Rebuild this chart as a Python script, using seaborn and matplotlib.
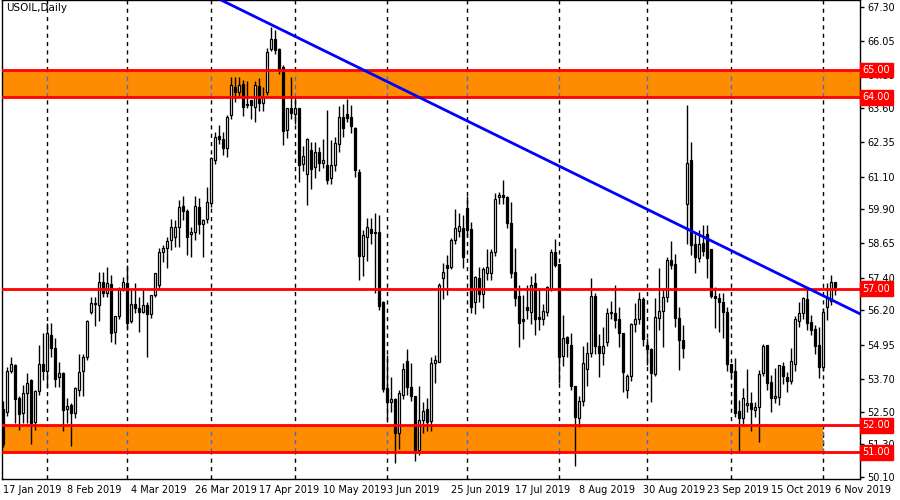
import matplotlib
matplotlib.use("Agg")
import matplotlib.pyplot as plt
import numpy as np
import pandas as pd
import seaborn as sns

# Daily USOIL candles, 17 Jan 2019 .. 6 Nov 2019
opens = [52.6, 52.48, 54.0, 54.2, 53.0, 52.46, 53.17, 53.65, 52.13, 53.26,
         54.23, 54.0, 55.3, 54.84, 53.75, 53.9, 52.6, 52.74, 52.46, 53.29,
         53.97, 54.48, 56.15, 56.45, 56.4, 57.23, 56.82, 57.15, 55.42, 56.0,
         56.97, 57.19, 55.82, 56.43, 56.28, 56.15, 56.4, 56.06, 56.76, 57.13,
         58.35, 58.5, 58.77, 58.89, 59.26, 60.02, 59.84, 58.99, 59.08, 59.97,
         59.38, 59.53, 60.14, 61.72, 62.58, 62.48, 62.15, 63.34, 64.36, 64.2,
         64.48, 63.75, 63.89, 63.65, 64.4, 63.8, 64.2, 65.75, 66.12, 65.76,
         65.1, 62.8, 63.59, 63.4, 63.59, 61.55, 61.18, 62.06, 61.45, 62.0,
         61.6, 61.52, 61.03, 61.52, 62.3, 63.28, 63.37, 63.28, 62.89, 61.27,
         58.19, 58.9, 59.17, 59.07, 59.07, 56.49, 53.35, 52.86, 52.95, 51.7,
         53.1, 54.34, 53.4, 53.05, 51.1, 52.19, 52.58, 52.17, 54.27, 54.33,
         57.38, 57.85, 57.78, 58.78, 59.12, 59.21, 59.94, 59.19, 56.49, 57.38,
         56.8, 57.56, 57.56, 58.35, 60.36, 60.41, 60.34, 59.39, 57.62, 56.73,
         55.88, 56.34, 56.15, 57.21, 55.95, 55.87, 56.15, 56.98, 58.32, 57.9,
         54.54, 55.21, 54.93, 53.43, 52.28, 52.89, 54.06, 54.63, 56.72, 54.89,
         54.63, 55.03, 56.1, 56.09, 55.87, 55.36, 53.29, 53.8, 55.7, 55.9,
         56.6, 54.93, 54.8, 53.89, 55.94, 56.19, 56.7, 58.04, 57.9, 55.91,
         55.11, 60.11, 61.7, 58.63, 58.12, 58.65, 58.99, 58.44, 56.72, 56.64,
         56.52, 56.15, 54.24, 53.99, 52.52, 52.25, 52.72, 52.8, 52.56, 52.65,
         53.9, 54.93, 53.59, 52.98, 53.04, 54.17, 53.78, 53.63, 54.23, 55.82,
         56.09, 56.6, 55.79, 55.51, 54.93, 54.12, 56.31, 56.56, 57.23]
highs = [52.9, 54.14, 54.5, 54.25, 53.05, 53.47, 53.92, 53.7, 53.3, 54.93,
         55.36, 55.75, 55.75, 55.18, 54.3, 53.95, 52.98, 52.8, 53.4, 54.59,
         54.6, 55.85, 56.7, 56.7, 57.6, 57.6, 57.8, 57.5, 56.0, 57.07,
         57.41, 57.86, 56.97, 57.19, 56.7, 56.97, 56.52, 56.77, 57.56, 58.5,
         58.6, 58.9, 59.53, 59.5, 60.24, 60.38, 59.9, 59.26, 60.38, 60.3,
         59.55, 60.72, 61.82, 62.73, 62.98, 62.73, 63.34, 64.75, 64.75, 64.75,
         64.62, 64.59, 63.9, 64.59, 64.69, 64.38, 65.8, 66.58, 66.45, 65.8,
         65.17, 63.62, 64.75, 64.0, 63.6, 62.2, 62.5, 62.37, 62.37, 62.18,
         62.49, 63.53, 62.43, 62.55, 63.67, 63.77, 63.92, 63.71, 62.9, 61.39,
         59.14, 59.57, 59.57, 59.75, 59.7, 56.55, 54.57, 53.75, 53.0, 53.29,
         54.29, 54.8, 54.27, 53.05, 53.44, 52.86, 52.99, 54.51, 54.57, 57.2,
         57.95, 58.23, 58.84, 59.9, 59.78, 59.69, 60.4, 59.45, 57.46, 57.8,
         57.8, 58.44, 58.44, 60.49, 60.55, 60.97, 60.37, 60.18, 58.47, 57.13,
         56.77, 57.13, 57.46, 57.58, 57.0, 56.45, 57.1, 58.43, 58.8, 57.9,
         56.03, 55.25, 55.39, 53.43, 53.06, 54.9, 55.03, 57.37, 56.82, 55.33,
         55.58, 56.3, 56.55, 57.13, 56.33, 55.36, 53.86, 55.75, 56.46, 56.87,
         56.7, 55.2, 54.84, 56.64, 57.74, 56.94, 58.16, 58.74, 58.28, 56.33,
         55.66, 63.71, 62.35, 58.99, 59.14, 59.32, 59.32, 58.45, 57.07, 56.83,
         56.85, 56.34, 54.25, 54.45, 52.92, 53.35, 54.06, 53.23, 52.86, 54.02,
         54.97, 54.95, 53.84, 54.08, 54.2, 54.33, 53.96, 54.81, 56.0, 56.52,
         56.7, 56.97, 56.03, 55.67, 55.58, 56.28, 57.19, 57.5, 57.24]
lows = [51.2, 52.35, 53.9, 52.07, 51.83, 52.07, 52.07, 51.3, 51.83, 53.1,
        53.65, 53.35, 54.5, 53.41, 53.41, 51.79, 52.07, 51.25, 52.25, 53.08,
        53.08, 54.4, 56.07, 55.64, 55.8, 56.68, 56.7, 55.06, 54.97, 55.9,
        56.9, 55.5, 55.73, 56.1, 55.42, 56.1, 54.51, 55.93, 56.7, 57.0,
        57.98, 57.75, 58.4, 58.53, 58.53, 59.5, 58.22, 58.14, 58.77, 59.0,
        58.16, 59.4, 60.0, 61.57, 62.3, 61.9, 61.8, 63.2, 63.83, 64.0,
        63.3, 63.6, 63.19, 63.1, 63.5, 63.5, 64.1, 65.7, 65.6, 64.84,
        62.25, 62.5, 63.2, 63.04, 60.9, 61.3, 60.05, 60.66, 61.03, 61.3,
        61.4, 60.84, 60.84, 61.3, 62.0, 62.55, 63.1, 62.7, 61.1, 57.33,
        57.45, 58.0, 58.63, 56.85, 56.2, 53.2, 52.1, 52.5, 50.61, 51.13,
        52.95, 53.1, 52.9, 50.7, 50.9, 51.7, 51.77, 51.77, 53.56, 54.3,
        56.61, 56.77, 57.7, 58.63, 58.9, 57.74, 58.9, 56.1, 56.07, 56.5,
        56.28, 57.3, 57.3, 58.2, 60.1, 60.1, 59.2, 57.4, 56.36, 54.85,
        55.14, 55.9, 55.7, 55.3, 55.5, 55.66, 56.0, 56.9, 57.8, 53.55,
        54.16, 54.5, 53.3, 50.5, 51.92, 52.7, 53.44, 54.5, 54.6, 53.75,
        54.2, 54.9, 55.9, 55.54, 54.85, 53.22, 52.98, 53.6, 55.42, 55.7,
        54.9, 54.2, 52.83, 53.8, 55.5, 54.85, 56.5, 57.7, 55.6, 54.02,
        54.44, 58.62, 58.22, 57.58, 57.96, 58.2, 57.37, 56.66, 55.54, 55.42,
        55.18, 54.0, 53.7, 52.3, 50.99, 52.04, 52.5, 51.79, 52.3, 51.4,
        53.8, 53.3, 52.47, 52.8, 52.74, 53.5, 53.23, 53.5, 54.0, 55.6,
        55.9, 55.5, 55.3, 54.6, 53.71, 54.0, 55.85, 56.4, 56.76]
closes = [51.3, 53.98, 54.23, 52.96, 52.4, 53.17, 53.53, 52.07, 53.25, 54.23,
          54.0, 55.36, 54.84, 53.7, 53.9, 52.56, 52.7, 52.43, 53.35, 53.93,
          54.48, 55.82, 56.46, 56.43, 57.23, 56.82, 57.19, 55.39, 55.99, 56.97,
          57.23, 55.75, 56.43, 56.28, 56.15, 56.4, 56.06, 56.76, 57.56, 58.35,
          58.5, 58.75, 59.26, 59.26, 59.99, 59.84, 58.87, 59.08, 60.02, 59.38,
          59.5, 60.17, 61.76, 62.55, 62.48, 62.15, 63.26, 64.44, 64.2, 64.44,
          63.65, 63.71, 63.71, 64.44, 63.8, 64.02, 65.64, 66.15, 65.72, 65.05,
          62.77, 63.59, 63.43, 63.59, 61.52, 61.85, 62.49, 61.39, 62.0, 61.58,
          61.72, 60.99, 61.52, 62.33, 63.28, 62.86, 63.25, 62.94, 61.33, 58.19,
          58.96, 59.24, 59.05, 59.04, 56.37, 53.34, 52.83, 52.95, 51.7, 53.17,
          54.05, 53.41, 53.07, 51.1, 52.19, 52.52, 52.13, 54.29, 54.39, 57.13,
          57.6, 57.74, 58.78, 59.21, 59.29, 58.17, 59.14, 56.32, 57.41, 56.8,
          57.7, 57.8, 58.34, 60.27, 60.41, 60.36, 59.41, 57.58, 56.67, 55.75,
          55.83, 56.22, 57.13, 55.88, 55.9, 56.19, 57.07, 58.32, 57.86, 54.48,
          55.18, 54.99, 53.44, 52.31, 52.89, 54.26, 54.65, 56.72, 54.9, 54.63,
          54.89, 56.09, 56.15, 55.85, 55.39, 53.95, 53.8, 55.7, 55.9, 56.6,
          55.14, 54.77, 53.92, 55.97, 56.19, 56.68, 58.04, 57.86, 55.94, 55.11,
          54.81, 61.6, 58.59, 58.16, 58.63, 58.38, 58.1, 56.72, 56.64, 56.52,
          56.15, 54.24, 53.96, 52.46, 52.28, 52.98, 52.8, 52.58, 52.65, 53.86,
          54.9, 53.53, 52.98, 53.07, 54.2, 53.8, 53.63, 54.35, 55.87, 56.09,
          56.64, 55.73, 55.48, 54.88, 54.12, 56.15, 56.7, 57.25, 57.07]

# trading days (Good Friday has no bar)
holidays = ["2019-04-19"]
dates = pd.bdate_range("2019-01-17", periods=len(closes), freq="C",
                       holidays=holidays)

level_lines = [65.0, 64.0, 57.0, 52.0, 51.0]
upper_zone = (64.0, 65.0)
lower_zone = (51.0, 52.0)
lower_zone_end = pd.Timestamp("2019-11-01")
trend_anchor = (pd.Timestamp("2019-04-24"), 66.59)
trend_slope = -0.0719   # price per bar

price_ticks = [67.30, 66.05, 64.80, 63.60, 62.35, 61.10, 59.90, 58.65,
               57.40, 56.20, 54.95, 53.70, 52.50, 51.30, 50.10]

sns.set_theme(style="white")
plt.rcParams["font.family"] = ["DejaVu Sans"]

fig = plt.figure(figsize=(9, 5), dpi=100)
ax = fig.add_axes([2 / 900, 21 / 500, 858 / 900, 479 / 500])

df = pd.DataFrame({"date": dates, "open": opens, "high": highs,
                   "low": lows, "close": closes})
df["i"] = np.arange(len(df))
up = df["close"] >= df["open"]

x0, x1 = -0.25, 214.25
y0, y1 = 50.03, 67.56
ax.set_xlim(x0, x1)
ax.set_ylim(y0, y1)

# support / resistance zones
ax.axhspan(*upper_zone, color="#FF8C00", zorder=0.5, lw=0)
end_i = int(np.searchsorted(dates, lower_zone_end))
ax.fill_between([x0, end_i], lower_zone[0], lower_zone[1], color="#FF8C00",
                zorder=0.5, lw=0)

# month separators
month_idx = [i for i in range(1, len(dates)) if dates[i].month != dates[i - 1].month]
ax.vlines(month_idx, y0, y1, colors="black", linestyles=(0, (3, 3)),
          lw=1, zorder=0.3)
ax.vlines(month_idx, upper_zone[0], upper_zone[1], colors="#3a6fd0",
          linestyles=(0, (3, 3)), lw=1, zorder=0.6)
ax.vlines([m for m in month_idx if m <= end_i], lower_zone[0], lower_zone[1],
          colors="#3a6fd0", linestyles=(0, (3, 3)), lw=1, zorder=0.6)

# candles
ax.vlines(df["i"], df["low"], df["high"], colors="black", lw=1, zorder=2)
body = (df["close"] - df["open"]).abs().clip(lower=0.04)
bottom = df[["open", "close"]].min(axis=1)
ax.bar(df["i"][up], body[up], bottom=bottom[up], width=0.62, color="white",
       edgecolor="black", lw=0.9, zorder=2.5)
ax.bar(df["i"][~up], body[~up], bottom=bottom[~up], width=0.62, color="black",
       edgecolor="black", lw=0.9, zorder=2.5)

# levels and trend line
for lv in level_lines:
    ax.axhline(lv, color="red", lw=2, zorder=3)
anchor_i = int(np.searchsorted(dates, trend_anchor[0]))
ax.axline((anchor_i, trend_anchor[1]), slope=trend_slope, color="blue", lw=2,
          zorder=3.5)

# axes, ticks
for s in ax.spines.values():
    s.set_color("black")
    s.set_linewidth(1)
ax.yaxis.tick_right()
ax.set_yticks(price_ticks)
ax.set_yticklabels([f"{p:.2f}" for p in price_ticks], fontsize=7)
xt = list(range(0, len(dates), 16))
ax.set_xticks(xt)
ax.set_xticklabels([f"{dates[i].day} {dates[i].strftime('%b %Y')}" for i in xt],
                   fontsize=7, ha="left")
ax.tick_params(axis="both", direction="out", length=3, width=1, color="black",
               pad=2, labelcolor="black")
ax.tick_params(axis="x", pad=1)

for lv in level_lines:
    ax.text(1.003, lv, f"{lv:.2f}", transform=ax.get_yaxis_transform(),
            fontsize=7, color="white", va="center", ha="left", zorder=5,
            bbox=dict(boxstyle="square,pad=0.25", fc="red", ec="red"))

ax.text(4 / 858, 1 - 8 / 479, "USOIL,Daily", transform=ax.transAxes,
        fontsize=7.5, color="black", va="center", ha="left")

fig.savefig("out.png", dpi=100)
